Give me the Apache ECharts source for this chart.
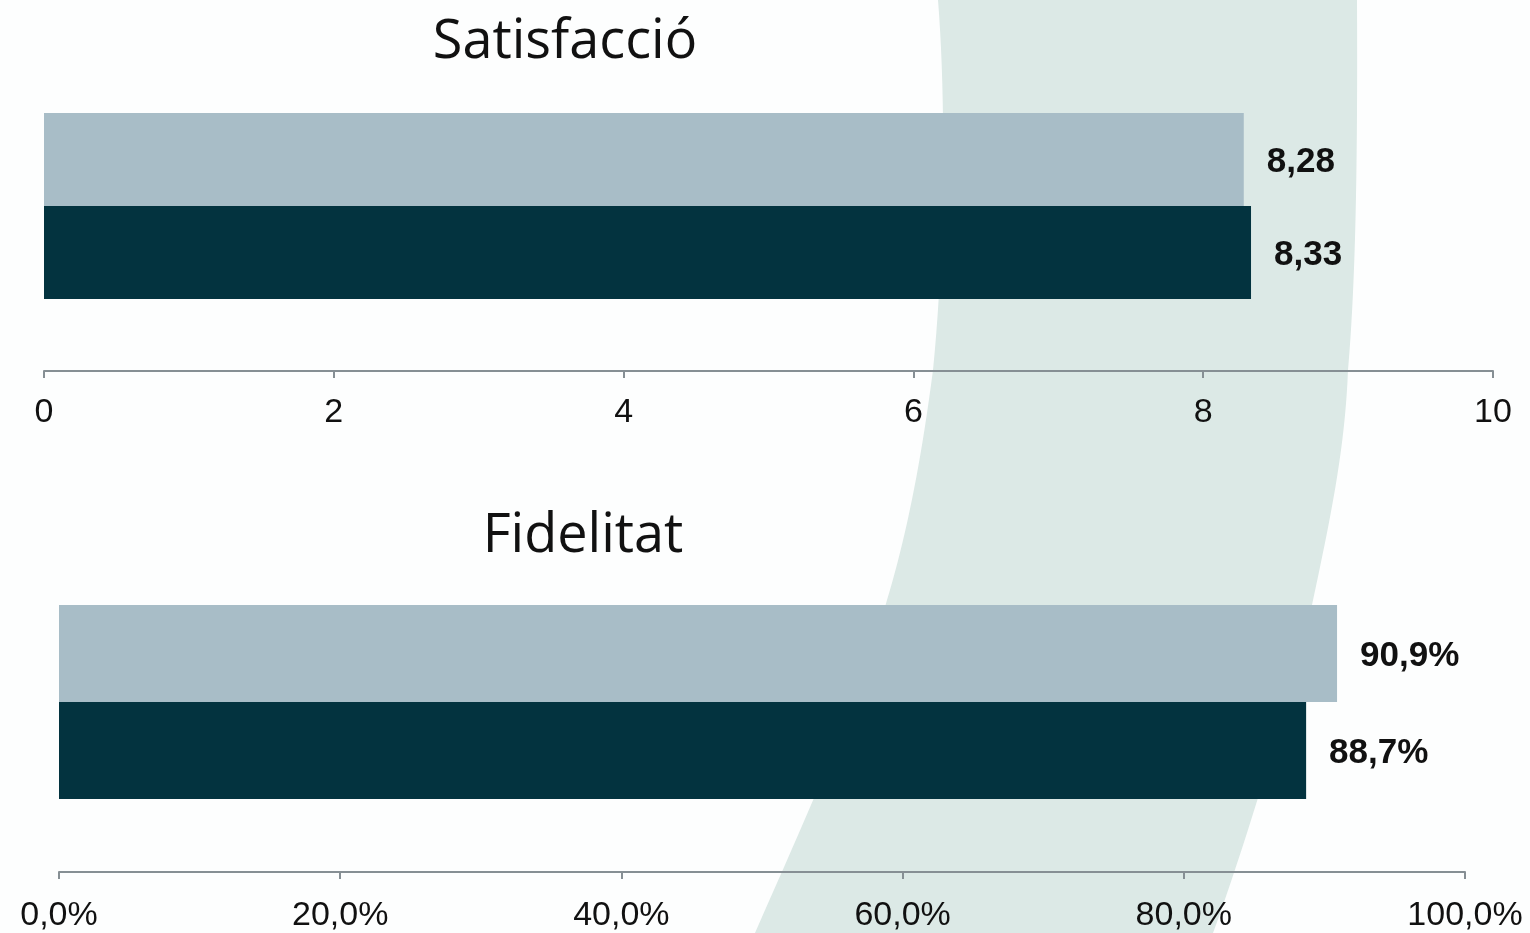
<!DOCTYPE html>
<html>
<head>
<meta charset="utf-8">
<script src="https://cdn.jsdelivr.net/npm/echarts@6/dist/echarts.min.js"></script>
<style>
  html, body { margin: 0; padding: 0; background: #fdfefe; }
  #chart { width: 1530px; height: 933px; }
</style>
</head>
<body>
<div id="chart"></div>
<script>
// data
const satisfLabels = ['Satisfacció'];
const satisfA = [8.28];
const satisfB = [8.33];
const satisfTicks = { min: 0, max: 10, interval: 2 };

const fidelLabels = ['Fidelitat'];
const fidelA = [90.9];
const fidelB = [88.7];
const fidelTicks = { min: 0, max: 100, interval: 20 };

const lightColor = '#a8bdc7';
const darkColor = '#03333f';
const axisColor = '#868f94';

const comma = (v, d) => v.toFixed(d).replace('.', ',');

const chart = echarts.init(document.getElementById('chart'));

// decorative band behind the charts, built from cubic segments
const bandSegs = [
  [[938, 0], [946, 100], [945, 250], [933, 370]],
  [[933, 370], [920, 470], [905, 540], [887, 600]],
  [[887, 600], [860, 700], [800, 830], [755, 933]],
  [[1213, 933], [1240, 860], [1290, 700], [1312, 605]],
  [[1312, 605], [1330, 520], [1345, 450], [1348, 370]],
  [[1348, 370], [1354, 300], [1358, 200], [1357, 0]]
];
function sampleBand(segs) {
  const pts = [];
  segs.forEach(([a, b, c, d]) => {
    for (let i = 0; i <= 20; i++) {
      const t = i / 20, u = 1 - t;
      pts.push([
        u * u * u * a[0] + 3 * u * u * t * b[0] + 3 * u * t * t * c[0] + t * t * t * d[0],
        u * u * u * a[1] + 3 * u * u * t * b[1] + 3 * u * t * t * c[1] + t * t * t * d[1]
      ]);
    }
  });
  return pts;
}

const valueAxis = (gridIndex, ticks, fmt, margin) => ({
  type: 'value',
  gridIndex,
  min: ticks.min,
  max: ticks.max,
  interval: ticks.interval,
  splitLine: { show: false },
  axisLine: { show: true, lineStyle: { color: axisColor, width: 2 } },
  axisTick: { show: true, length: 7, lineStyle: { color: axisColor, width: 2 } },
  axisLabel: {
    color: '#111',
    fontSize: 34,
    fontFamily: 'Liberation Sans, Arial, sans-serif',
    margin,
    formatter: fmt
  }
});

const catAxis = (gridIndex, data) => ({
  type: 'category',
  gridIndex,
  data,
  inverse: true,
  axisLine: { show: false },
  axisTick: { show: false },
  axisLabel: { show: false }
});

const barLabel = (fmt) => ({
  show: true,
  position: 'right',
  distance: 23,
  offset: [0, 3],
  color: '#111',
  fontSize: 35,
  fontWeight: 'bold',
  fontFamily: 'Liberation Sans, Arial, sans-serif',
  formatter: fmt
});

const fmtSat = p => comma(p.value, 2);
const fmtFid = p => comma(p.value, 1) + '%';

chart.setOption({
  backgroundColor: '#fdfefe',
  animation: false,
  graphic: [{
    type: 'polygon',
    z: -10,
    shape: { points: sampleBand(bandSegs) },
    style: { fill: '#dce9e6' }
  }],
  title: [
    {
      text: 'Satisfacció', left: 560, top: 11, textAlign: 'center',
      textStyle: { fontFamily: 'Open Sans', fontWeight: 'normal', fontSize: 54, color: '#111' }
    },
    {
      text: 'Fidelitat', left: 578, top: 505, textAlign: 'center',
      textStyle: { fontFamily: 'Open Sans', fontWeight: 'normal', fontSize: 54, color: '#111' }
    }
  ],
  grid: [
    { left: 44, width: 1449, top: 41, height: 330 },
    { left: 59, width: 1406, top: 532, height: 342 }
  ],
  xAxis: [
    valueAxis(0, satisfTicks, v => String(v), 25),
    valueAxis(1, fidelTicks, v => comma(v, 1) + '%', 27)
  ],
  yAxis: [catAxis(0, satisfLabels), catAxis(1, fidelLabels)],
  series: [
    { type: 'bar', xAxisIndex: 0, yAxisIndex: 0, data: satisfA, barWidth: 93, barGap: '0%',
      itemStyle: { color: lightColor }, label: barLabel(fmtSat) },
    { type: 'bar', xAxisIndex: 0, yAxisIndex: 0, data: satisfB, barWidth: 93, barGap: '0%',
      itemStyle: { color: darkColor }, label: barLabel(fmtSat) },
    { type: 'bar', xAxisIndex: 1, yAxisIndex: 1, data: fidelA, barWidth: 97, barGap: '0%',
      itemStyle: { color: lightColor }, label: barLabel(fmtFid) },
    { type: 'bar', xAxisIndex: 1, yAxisIndex: 1, data: fidelB, barWidth: 97, barGap: '0%',
      itemStyle: { color: darkColor }, label: barLabel(fmtFid) }
  ]
});
</script>
</body>
</html>
